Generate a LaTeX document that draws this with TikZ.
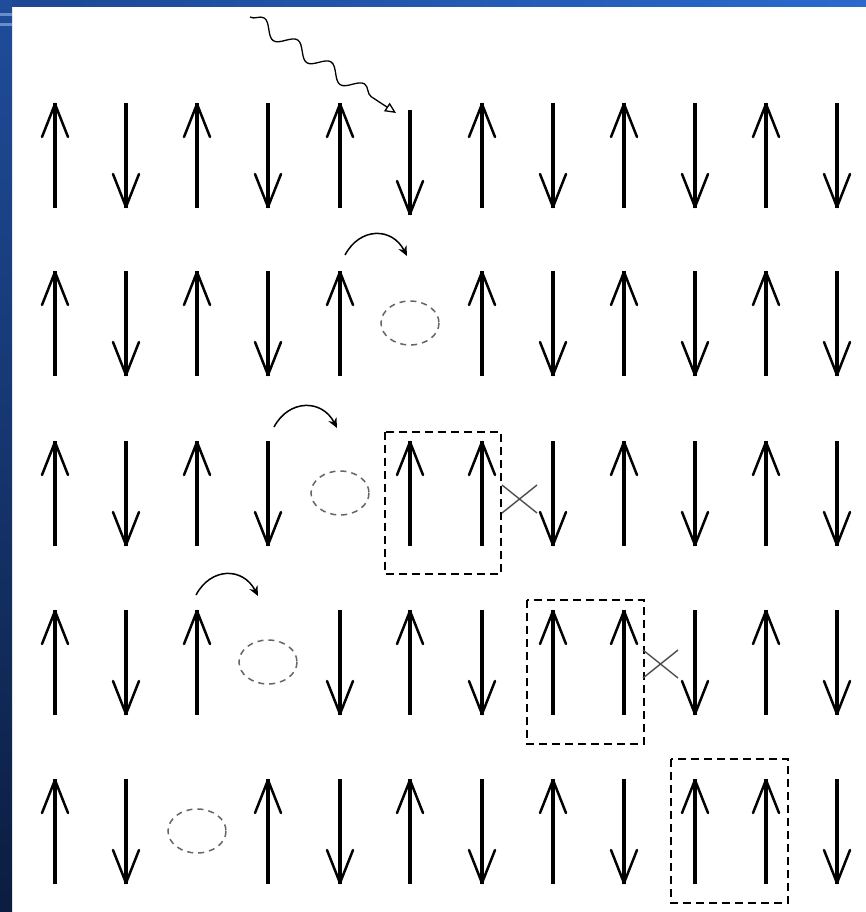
\documentclass[tikz,border=0pt]{standalone}
\usetikzlibrary{arrows.meta,decorations.pathmorphing}
\definecolor{barTop}{HTML}{1F4D9B}
\definecolor{barBot}{HTML}{0B1D40}
\definecolor{topL}{HTML}{1C4793}
\definecolor{topR}{HTML}{2A6ACD}
\definecolor{stripe}{HTML}{6A8CCB}
\tikzset{
  shaft/.style={line width=3.2pt},
  barb/.style={line width=2.5pt, line join=round, line cap=round},
  hole/.style={draw=black!60, line width=1.5pt, dash pattern=on 6pt off 5pt},
  pairbox/.style={draw, line width=1.4pt, dash pattern=on 8pt off 5pt},
  hop/.style={line width=1.5pt, -{Stealth[length=10pt,width=9pt]}},
  crossmark/.style={line width=1.4pt, draw=black!70},
  photon/.style={line width=1.3pt, decorate,
    decoration={snake, amplitude=7pt, segment length=40pt, post length=18pt}},
  spinu/.pic={\draw[shaft] (0,0)--(0,105); \draw[barb] (-13,34)--(0,1)--(13,34);},
  spind/.pic={\draw[shaft] (0,0)--(0,105); \draw[barb] (-13,71)--(0,104)--(13,71);},
  spinh/.pic={\draw[hole] (0,52) ellipse [x radius=29, y radius=22];},
}
\begin{document}
\begin{tikzpicture}[x=1pt,y=-1pt]
\useasboundingbox (0,0) rectangle (866,912);
\fill[white] (0,0) rectangle (866,912);
% slide frame
\shade[left color=topL, right color=topR] (0,0) rectangle (866,7);
\shade[top color=barTop, bottom color=barBot] (0,0) rectangle (12,912);
\fill[stripe] (0,13) rectangle (12,16);
\fill[stripe] (0,23) rectangle (12,26);
% column positions
\def\xs{{55,126,197,268,340,410,482,553,624,695,766,837}}
% row 1
\foreach \c/\t in {0/u,1/d,2/u,3/d,4/u,6/u,7/d,8/u,9/d,10/u,11/d}
  \pic at ({\xs[\c]},103) {spin\t};
\pic at (410,110) {spind};
% row 2
\foreach \c/\t in {0/u,1/d,2/u,3/d,4/u,5/h,6/u,7/d,8/u,9/d,10/u,11/d}
  \pic at ({\xs[\c]},271) {spin\t};
% row 3
\foreach \c/\t in {0/u,1/d,2/u,3/d,4/h,5/u,6/u,7/d,8/u,9/d,10/u,11/d}
  \pic at ({\xs[\c]},441) {spin\t};
% row 4
\foreach \c/\t in {0/u,1/d,2/u,3/h,4/d,5/u,6/d,7/u,8/u,9/d,10/u,11/d}
  \pic at ({\xs[\c]},610) {spin\t};
% row 5
\foreach \c/\t in {0/u,1/d,2/h,3/u,4/d,5/u,6/d,7/u,8/d,9/u,10/u,11/d}
  \pic at ({\xs[\c]},779) {spin\t};
% photon
\coordinate (ph0) at (250,17);
\coordinate (ph1) at (396,113);
\draw[photon, -{Triangle[open,length=11pt,width=10pt]}] (ph0) -- (ph1);
% hops
\coordinate (h2a) at (345,255); \coordinate (h2b) at (407,256);
\draw[hop] (h2a) .. controls (360,227) and (392,227) .. (h2b);
\coordinate (h3a) at (274,427); \coordinate (h3b) at (337,428);
\draw[hop] (h3a) .. controls (289,399) and (322,399) .. (h3b);
\coordinate (h4a) at (196,595); \coordinate (h4b) at (258,596);
\draw[hop] (h4a) .. controls (211,567) and (243,567) .. (h4b);
% pair boxes
\draw[pairbox] (385,432) rectangle (501,574);
\draw[pairbox] (527,600) rectangle (644,744);
\draw[pairbox] (671,759) rectangle (788,903);
% crosses
\draw[crossmark] (502,485) -- (537,513) (502,513) -- (537,485);
\draw[crossmark] (643,650) -- (678,678) (643,678) -- (678,650);
\end{tikzpicture}
\end{document}
